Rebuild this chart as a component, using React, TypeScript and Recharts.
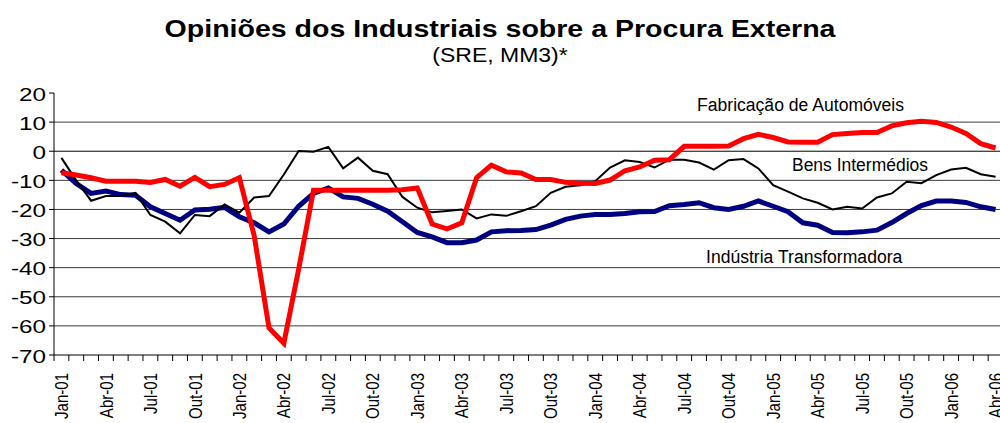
import { Line, LineChart, ReferenceLine, XAxis, YAxis } from "recharts";

const monthNames = ["Jan", "Fev", "Mar", "Abr", "Mai", "Jun", "Jul", "Ago", "Set", "Out", "Nov", "Dez"];
const years = ["01", "02", "03", "04", "05", "06"];
const months = years.flatMap((y) => monthNames.map((m) => `${m}-${y}`)).slice(0, 64);

const industria = [
  -6.5, -11.1, -14.5, -13.7, -14.9, -15.1, -19.1, -21.4, -23.7, -20.2,
  -19.9, -19.3, -22.5, -24.6, -27.7, -25, -18.9, -14.5, -12.6, -15.7,
  -16.2, -18.2, -20.6, -24.2, -27.9, -29.4, -31.4, -31.4, -30.5, -27.7,
  -27.3, -27.2, -26.9, -25.4, -23.4, -22.3, -21.7, -21.7, -21.4, -20.8,
  -20.7, -18.7, -18.3, -17.7, -19.4, -20, -18.9, -17.1, -18.9, -20.8,
  -24.6, -25.4, -27.9, -28, -27.7, -27.1, -24.5, -21.4, -18.7, -17.1,
  -17.1, -17.6, -19.1, -20,
];
const bens = [
  -2.3, -10, -17, -15.4, -15.4, -14.3, -21.9, -24.2, -28.2, -21.9,
  -22.3, -18.3, -21.1, -15.9, -15.4, -8, 0.1, -0.2, 1.5, -5.9,
  -2.2, -6.7, -7.9, -15.7, -19.4, -21, -20.5, -20, -23.1, -21.7,
  -22.2, -20.6, -18.9, -14.3, -12.2, -11.7, -10.3, -5.6, -3.1, -3.7,
  -5.6, -2.9, -2.9, -3.9, -6.3, -3.1, -2.7, -5.9, -11.7, -13.9,
  -16.2, -17.7, -20, -19.1, -19.7, -15.9, -14.5, -10.5, -11, -8.2,
  -6.3, -5.7, -7.9, -8.8,
];
const automoveis = [
  -7.4, -8.2, -9.1, -10.3, -10.3, -10.3, -10.7, -9.7, -12, -9,
  -12.2, -11.4, -9.1, -29, -60.7, -66, -40.5, -13.4, -13.4, -13.4,
  -13.4, -13.4, -13.4, -13.2, -12.6, -25, -26.7, -24.6, -9.1, -4.8,
  -7.1, -7.5, -9.7, -9.7, -10.7, -11, -11.1, -9.9, -6.7, -5.4,
  -3.1, -2.9, 1.7, 1.7, 1.7, 1.8, 4.3, 5.8, 4.7, 3.2,
  3.1, 3.1, 5.7, 6.1, 6.4, 6.4, 8.7, 9.8, 10.3, 9.9,
  8.3, 6.1, 2.6, 1.1,
];

const yTicks = [20, 10, 0, -10, -20, -30, -40, -50, -60, -70];
const gridValues = [10, 0, -10, -20, -30, -40, -50, -60];

const data = months.map((m, i) => ({
  idx: i,
  month: m,
  industria: industria[i],
  bens: bens[i],
  automoveis: automoveis[i],
}));

const W = 1003;
const H = 423;
const LEFT = 54;
const BOTTOM = 68;
const band = (W - LEFT) / months.length;
const font = "'Liberation Sans', Arial, sans-serif";

function YTick({ x, y, payload }: any) {
  return (
    <text
      transform={`translate(${x},${y}) scale(1.35,1)`}
      textAnchor="end"
      dy="0.42em"
      fontSize={18}
      fontFamily={font}
      fill="#000"
    >
      {payload.value}
    </text>
  );
}

function XTick({ x, y, payload }: any) {
  const i = payload.value as number;
  const bx = x - band / 2;
  return (
    <g>
      <line x1={bx} x2={bx} y1={y} y2={y + 6} stroke="#000" strokeWidth={1} />
      {i % 3 === 0 && (
        <text
          transform={`translate(${x},${y + 18}) rotate(-90) scale(0.94,1.15)`}
          textAnchor="end"
          dy="0.36em"
          fontSize={16}
          fontFamily={font}
          fill="#000"
        >
          {months[i]}
        </text>
      )}
    </g>
  );
}

export default function App() {
  return (
    <div style={{ position: "absolute", left: 0, top: 0, width: 1000, height: H, overflow: "hidden", background: "#fff" }}>
      <LineChart width={W} height={H} data={data} margin={{ top: 93, right: 0, bottom: 0, left: 0 }}>
        <XAxis
          dataKey="idx"
          type="number"
          domain={[-0.5, months.length - 0.5]}
          ticks={data.map((d) => d.idx)}
          interval={0}
          tickLine={false}
          tickSize={0}
          tickMargin={0}
          height={BOTTOM}
          axisLine={{ stroke: "#000", strokeWidth: 1 }}
          tick={<XTick />}
        />
        <YAxis
          domain={[-70, 20]}
          ticks={yTicks}
          interval={0}
          width={LEFT}
          tickSize={5}
          tickMargin={3}
          axisLine={{ stroke: "#000", strokeWidth: 1 }}
          tickLine={{ stroke: "#000", strokeWidth: 1 }}
          tick={<YTick />}
        />
        {gridValues.map((v) => (
          <ReferenceLine key={v} y={v} stroke={v === 0 ? "#000" : "#3a3a3a"} strokeWidth={1} />
        ))}
        <Line type="linear" dataKey="industria" stroke="#000080" strokeWidth={5} dot={false} isAnimationActive={false} />
        <Line type="linear" dataKey="bens" stroke="#000" strokeWidth={2} dot={false} isAnimationActive={false} />
        <Line type="linear" dataKey="automoveis" stroke="#ff0000" strokeWidth={5} dot={false} isAnimationActive={false} />
      </LineChart>
      <svg width={1000} height={H} style={{ position: "absolute", left: 0, top: 0, pointerEvents: "none" }}>
        <text transform="translate(500,37) scale(1.19,1)" textAnchor="middle" fontSize={24} fontWeight="bold" fontFamily={font} fill="#000">
          Opiniões dos Industriais sobre a Procura Externa
        </text>
        <text transform="translate(500,62) scale(1.15,1)" textAnchor="middle" fontSize={20} fontFamily={font} fill="#000">
          (SRE, MM3)*
        </text>
        <g fontFamily={font} fontSize={19} fill="#000">
          <text transform="translate(697,111) scale(0.925,1)">Fabricação de Automóveis</text>
          <text transform="translate(792,171) scale(0.92,1)">Bens Intermédios</text>
          <text transform="translate(706,263) scale(0.925,1)">Indústria Transformadora</text>
        </g>
      </svg>
    </div>
  );
}
